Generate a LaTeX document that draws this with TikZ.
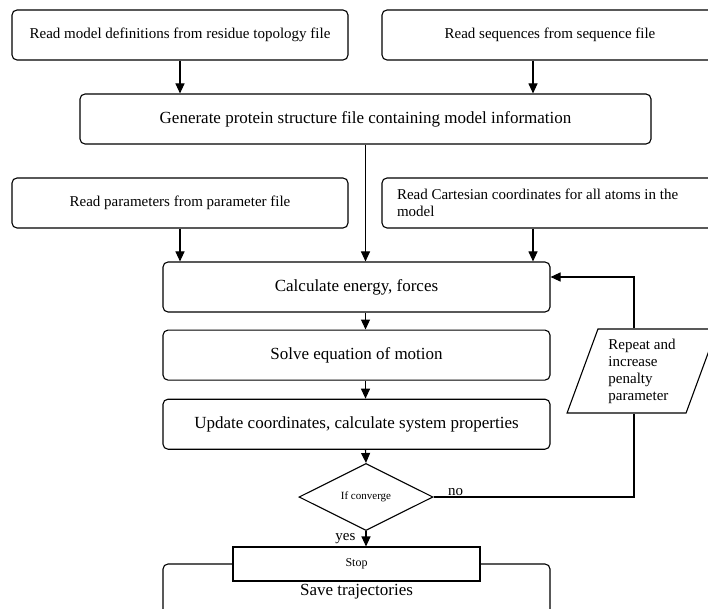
\documentclass[tikz,border=0pt]{standalone}
\usepackage{fontspec}
\setmainfont{Liberation Serif}
\usepackage{tikz}
\usetikzlibrary{arrows.meta,positioning,shapes.geometric}
\tikzset{
  proc/.style={draw,rounded corners=5pt,line width=1.1pt,align=center,inner sep=0pt,fill=white,font=\fontsize{17}{20}\selectfont,minimum width=387pt,minimum height=50pt},
  readbox/.style={proc,font=\fontsize{15}{17}\selectfont,minimum width=336pt},
  decide/.style={draw,diamond,aspect=2,line width=1.1pt,inner sep=0pt,font=\fontsize{11}{13}\selectfont,minimum width=134pt,minimum height=67pt},
  endbox/.style={draw,line width=1.1pt,fill=white,inner sep=0pt,font=\fontsize{12}{14}\selectfont,minimum width=247pt,minimum height=34pt},
  repeatbox/.style={draw,trapezium,trapezium left angle=70,trapezium right angle=110,trapezium stretches=true,line width=1.1pt,align=left,inner sep=0pt,font=\fontsize{15}{17}\selectfont,minimum width=150pt,minimum height=84pt},
  flow/.style={-{Triangle[length=10pt,width=9pt]},line width=1.1pt},
  link/.style={line width=1.1pt},
  tag/.style={font=\fontsize{15}{17}\selectfont,inner sep=1pt},
}

\begin{document}
\begin{tikzpicture}[x=1pt,y=-1pt]
\clip (0,0) rectangle (708,609);
% inputs
\node[readbox] (topo) at (180,35) {Read model definitions from residue topology file};
\node[readbox] (seq) at (550,35) {Read sequences from sequence file};
\node[proc,minimum width=571pt] (psf) at (365.5,119) {Generate protein structure file containing model information};
\node[readbox] (par) at (180,203) {Read parameters from parameter file};
\node[readbox,align=flush left,text width=306pt,inner xsep=15pt] (crd) at (550,203) {Read Cartesian coordinates for all atoms in the\\model};
% main loop
\node[proc] (calc) at (356.5,287) {Calculate energy, forces};
\node[proc,below=17pt of calc] (solve) {Solve equation of motion};
\node[proc,below=18pt of solve] (upd) {Update coordinates, calculate system properties};
\node[decide] (conv) at (366,497) {If converge};
\node[repeatbox] (rep) at (642,371) {Repeat and\\increase\\penalty\\parameter};
\coordinate (turn) at (634,497);
% end
\node[proc,minimum height=56pt] (save) at (356.5,592) {Save trajectories};
\node[endbox] (stop) at (356.5,564) {Stop};
\draw[flow] (topo.south) -- (topo.south |- psf.north);
\draw[flow] ([xshift=-17pt]seq.south) -- ([xshift=-17pt]seq.south |- psf.north);
\draw[flow] (psf.south) -- (psf.south |- calc.north);
\draw[flow] (par.south) -- (par.south |- calc.north);
\draw[flow] ([xshift=-17pt]crd.south) -- ([xshift=-17pt]crd.south |- calc.north);
\draw[flow] (psf.south |- calc.south) -- (psf.south |- solve.north);
\draw[flow] (psf.south |- solve.south) -- (psf.south |- upd.north);
\draw[flow] (psf.south |- upd.south) -- (conv.north);
\draw[flow] (conv.south) -- node[tag,left=9pt]{yes} (conv.south |- stop.north);
\draw[link] (conv.east) -- node[tag,above,pos=0.11]{no} (turn) -- (turn |- rep.south);
\draw[flow] (turn |- rep.north) |- ([yshift=10pt]calc.east);
\end{tikzpicture}
\end{document}
